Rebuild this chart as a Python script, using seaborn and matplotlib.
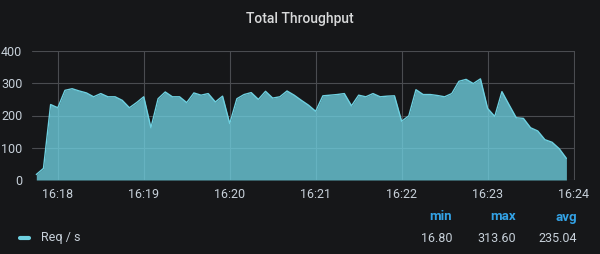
import pandas as pd
import matplotlib
matplotlib.use("Agg")
import matplotlib.pyplot as plt
import matplotlib.dates as mdates
import seaborn as sns

# Req/s sampled every 5 s, starting 16:17:45
start = "2024-01-01 16:17:45"
req_per_s = [17, 36, 234, 224, 278, 283, 276, 270, 258, 268,
             258, 258, 247, 224, 240, 258, 162, 252, 273, 258,
             258, 240, 270, 263, 268, 242, 260, 175, 252, 265,
             271, 250, 275, 254, 258, 276, 263, 247, 232, 213,
             261, 263, 265, 268, 230, 263, 258, 268, 258, 260,
             261, 182, 199, 280, 265, 265, 262, 258, 268, 306,
             312, 299, 313.6, 222, 197, 274, 233, 193, 191, 162,
             152, 125, 117, 97, 67]
stat_names = ["min", "max", "avg"]
stat_values = ["16.80", "313.60", "235.04"]
series_name = "Req / s"

df = pd.DataFrame({
    "time": pd.date_range(start, periods=len(req_per_s), freq="5s"),
    "value": req_per_s,
})

bg = "#161719"
text_col = "#c7d0d9"
line_col = "#6ED0E0"

sns.set_style("dark")
plt.rcParams["font.family"] = ["Roboto", "DejaVu Sans"]

fig = plt.figure(figsize=(6, 2.54), dpi=100, facecolor=bg)
ax = fig.add_axes([32 / 600, 1 - 180 / 254, 543 / 600, 129 / 254])
ax.set_facecolor(bg)

sns.lineplot(data=df, x="time", y="value", ax=ax, color=line_col, linewidth=1)
ax.fill_between(df["time"], df["value"], 0, color=line_col, alpha=0.78, linewidth=0)

ax.set_ylim(0, 400)
ax.set_yticks([0, 100, 200, 300, 400])
ax.set_xlim(pd.Timestamp("2024-01-01 16:17:42"), pd.Timestamp("2024-01-01 16:24:01"))
ax.xaxis.set_major_locator(mdates.MinuteLocator())
ax.xaxis.set_major_formatter(mdates.DateFormatter("%H:%M"))
ax.set_xlabel("")
ax.set_ylabel("")
ax.set_axisbelow(True)
ax.grid(True, color="#4a4c50", linewidth=0.8)
for s in ax.spines.values():
    s.set_visible(False)
ax.tick_params(colors=text_col, labelsize=9, length=0, pad=6)
ax.tick_params(axis="y", pad=7)

fig.text(0.5, 1 - 19 / 254, "Total Throughput", ha="center", va="center",
         color="#d8d9da", fontsize=10, fontweight="medium")

# legend row
fig.add_artist(plt.Line2D([20 / 600, 29 / 600], [1 - 238 / 254, 1 - 238 / 254],
                          color=line_col, linewidth=3))
fig.text(41 / 600, 1 - 238 / 254, series_name, ha="left", va="center",
         color=text_col, fontsize=9)
for name, val, xr in zip(stat_names, stat_values, [452, 516, 577]):
    fig.text(xr / 600, 1 - 217 / 254, name, ha="right", va="center",
             color="#33a2e5", fontsize=9.5, fontweight="bold")
    fig.text(xr / 600, 1 - 238 / 254, val, ha="right", va="center",
             color=text_col, fontsize=9)

plt.savefig("out.png", dpi=100, facecolor=bg)
